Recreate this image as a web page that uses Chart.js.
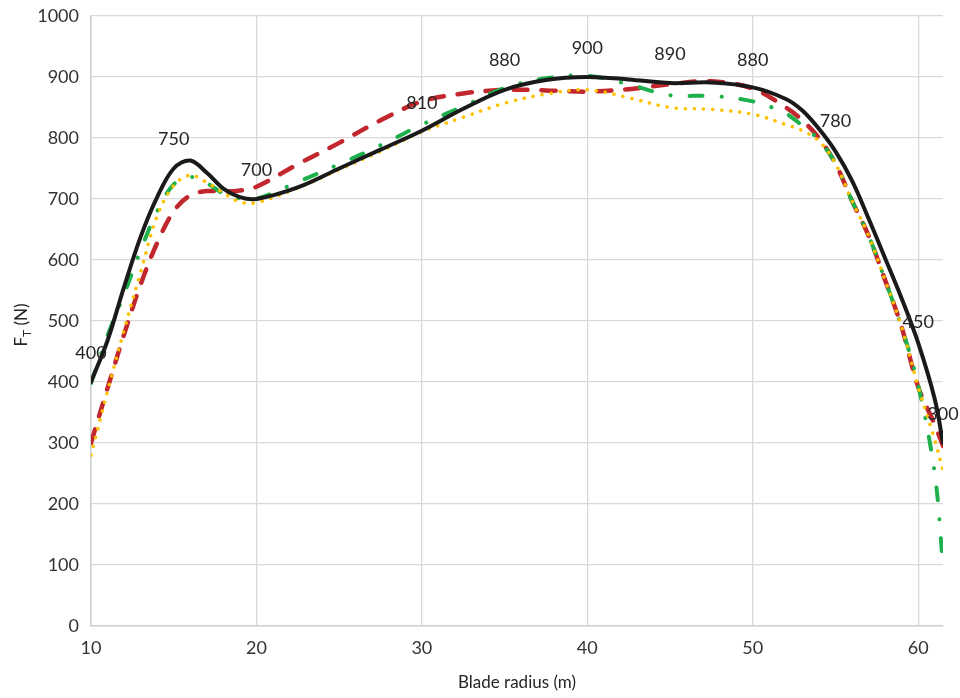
<!DOCTYPE html>
<html><head><meta charset="utf-8">
<script src="https://cdn.jsdelivr.net/npm/chart.js@4/dist/chart.umd.min.js"></script>
<style>html,body{margin:0;padding:0;background:#fff;}#wrap{width:960px;height:698px;}</style>
</head><body><div id="wrap"><canvas id="c" width="960" height="698"></canvas></div>
<script>
const radius = [10,11,12,13,14,15,16,17,18,19,20,22.5,25,27.5,30,32.5,35,37.5,40,42.5,45,47.5,50,52,53,54,55,56,57,58,59,60,61,61.5];
const seriesBlack  = [400,468,556,638,703,750,763,743,717,703,700,719,750,781,812,848,879,895,900,896,890,891,883,864,845,815,778,730,668,603,537,464,372,300];
const seriesRed    = [300,390,478,560,628,680,706,713,712,714,720,757,792,829,860,873,879,878,876,880,888,893,881,850,829,800,758,697,640,567,490,392,330,295];
const seriesGreen  = [398,476,544,616,680,724,736,726,709,701,700,728,757,788,822,852,882,898,902,888,870,869,860,840,820,797,758,697,640,567,490,395,250,100];
const seriesYellow = [280,385,485,580,672,722,739,727,710,695,694,718,748,778,810,834,857,872,879,866,850,847,839,822,812,795,758,697,640,567,490,392,305,255];
const labelRadius = [10,15,20,30,35,40,45,50,55,60,61.5];
const labelValues = [400,750,700,810,880,900,890,880,780,450,300];
const xTickValues = [10,20,30,40,50,60];
const yTickValues = [0,100,200,300,400,500,600,700,800,900,1000];

const toPts = arr => arr.map((v,i)=>({x:radius[i], y:v}));
const FONT = 'Lato, "Open Sans", sans-serif';

const labelPlugin = {
  id:'pointLabels',
  afterDatasetsDraw(chart){
    const {ctx, scales:{x,y}} = chart;
    ctx.save();
    ctx.font = '18px ' + FONT;
    ctx.fillStyle = '#262626';
    ctx.textAlign = 'center';
    ctx.textBaseline = 'middle';
    labelRadius.forEach((r,i)=>{
      ctx.fillText(String(labelValues[i]), x.getPixelForValue(r), y.getPixelForValue(labelValues[i]) - 29);
    });
    ctx.restore();
  }
};
const yTitlePlugin = {
  id:'yTitle',
  afterDraw(chart){
    const ctx = chart.ctx;
    ctx.save();
    ctx.translate(22, 325);
    ctx.rotate(-Math.PI/2);
    ctx.fillStyle = '#262626';
    ctx.textBaseline = 'middle';
    ctx.textAlign = 'left';
    const big = '17px ' + FONT, small = '12px ' + FONT;
    ctx.font = big; const wF = ctx.measureText('F').width;
    ctx.font = small; const wT = ctx.measureText('T').width;
    ctx.font = big; const wN = ctx.measureText(' (N)').width;
    let x0 = -(wF + wT + wN)/2;
    ctx.font = big; ctx.fillText('F', x0, 0);
    ctx.font = small; ctx.fillText('T', x0 + wF, 5);
    ctx.font = big; ctx.fillText(' (N)', x0 + wF + wT, 0);
    ctx.restore();
  }
};

new Chart(document.getElementById('c'), {
  type:'line',
  data:{
    datasets:[
      {label:'A', data:toPts(seriesBlack), borderColor:'#1a1a1a', borderWidth:4, pointRadius:0, tension:0.35, fill:false, borderCapStyle:'round'},
      {label:'D', data:toPts(seriesYellow), borderColor:'#FFC000', borderWidth:3.5, pointRadius:0, tension:0.35, fill:false, borderDash:[0.1,9], borderCapStyle:'round'},
      {label:'C', data:toPts(seriesGreen), borderColor:'#1DB04B', borderWidth:4, pointRadius:0, tension:0.35, fill:false, borderDash:[13,19,0.1,19], borderCapStyle:'round'},
      {label:'B', data:toPts(seriesRed), borderColor:'#C1272D', borderWidth:4.5, pointRadius:0, tension:0.35, fill:false, borderDash:[14,14], borderCapStyle:'round'}
    ]
  },
  options:{
    responsive:false, animation:false, devicePixelRatio:1,
    layout:{padding:{top:16, right:17, left:0, bottom:0}},
    plugins:{legend:{display:false}, tooltip:{enabled:false}},
    scales:{
      x:{type:'linear', min:10, max:61.5,
        afterBuildTicks(s){ s.ticks = xTickValues.map(v=>({value:v})); },
        afterFit(s){ s.height = 72; s.paddingLeft = 0; s.paddingRight = 0; },
        ticks:{font:{family:FONT, size:18}, color:'#333', padding:11, maxRotation:0, callback:v=>String(v)},
        grid:{color:'#d9d9d9', lineWidth:1.3, drawTicks:false},
        border:{color:'#cfcfcf', width:1.5},
        title:{display:true, text:'Blade radius (m)', font:{family:FONT, size:17}, color:'#262626', padding:{top:0,bottom:5}}
      },
      y:{type:'linear', min:0, max:1000,
        afterBuildTicks(s){ s.ticks = yTickValues.map(v=>({value:v})); },
        afterFit(s){ s.width = 91; s.paddingTop = 0; s.paddingBottom = 0; },
        ticks:{font:{family:FONT, size:18}, color:'#333', padding:12, callback:v=>String(v)},
        grid:{color:'#d9d9d9', lineWidth:1.3, drawTicks:false},
        border:{color:'#cfcfcf', width:1.5}
      }
    }
  },
  plugins:[labelPlugin, yTitlePlugin]
});
</script></body></html>
